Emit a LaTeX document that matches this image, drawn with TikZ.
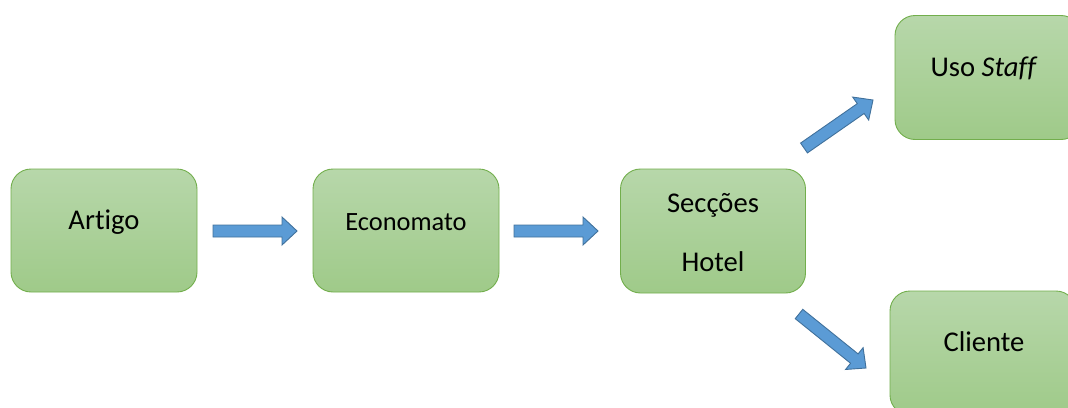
\documentclass[tikz,border=0pt]{standalone}
\usepackage{fontspec}
\setmainfont[Ligatures=NoCommon]{Carlito}
\usetikzlibrary{calc}
\definecolor{boxtop}{HTML}{B7D7AA}
\definecolor{boxbot}{HTML}{9FCA89}
\definecolor{boxline}{HTML}{72AE4C}
\definecolor{arrfill}{HTML}{5B9BD5}
\definecolor{arrline}{HTML}{41719C}
\tikzset{
  box/.style={draw=boxline, line width=0.9pt, rounded corners=20pt, top color=boxtop, bottom color=boxbot, inner sep=0pt},
  lbl/.style={font=\fontsize{28.6}{32}\selectfont, inner sep=0pt},
  blk/.style={fill=arrfill, draw=arrline, line width=0.9pt, line join=miter}
}
\newcommand\barrow[2]{%
  \coordinate (hb) at ($(#2)!15pt!(#1)$);
  \path[blk] ($(#1)!6pt!90:(#2)$) -- ($(hb)!6pt!-90:(#1)$) -- ($(hb)!14pt!-90:(#1)$) -- (#2) -- ($(hb)!14pt!90:(#1)$) -- ($(hb)!6pt!90:(#1)$) -- ($(#1)!6pt!-90:(#2)$) -- cycle;}
\begin{document}
\begin{tikzpicture}[x=1pt,y=-1pt]
\path[use as bounding box] (0,0) rectangle (1068,407);
\begin{scope}
\clip (0,0) rectangle (1068,407);
\node[box, minimum width=186pt, minimum height=123pt] (artigo) at (104,230.5) {};
\node[box, minimum width=186pt, minimum height=123pt] (econ) at (406,230.5) {};
\node[box, minimum width=185pt, minimum height=124pt] (sec) at (713,231) {};
\node[box, minimum width=186pt, minimum height=124pt] (staff) at (988,77.5) {};
\node[box, minimum width=186pt, minimum height=124pt] (cli) at (983,353) {};
\end{scope}
\node[lbl] at (104,222) {Artigo};
\node[lbl, font=\fontsize{26.4}{30}\selectfont] at (406,222) {Economato};
\node[lbl] at (713,205) {Secções};
\node[lbl] at (713,262) {Hotel};
\node[lbl] at (984,68) {Uso \textit{Staff}};
\node[lbl] at (984,342) {Cliente};
\coordinate (a1s) at (213,231); \coordinate (a1e) at (297,231);
\coordinate (a2s) at (514,231); \coordinate (a2e) at (598,231);
\coordinate (a3s) at (804,148); \coordinate (a3e) at (873,100);
\coordinate (a4s) at (799,314); \coordinate (a4e) at (866,368);
\barrow{a1s}{a1e}
\barrow{a2s}{a2e}
\barrow{a3s}{a3e}
\barrow{a4s}{a4e}
\end{tikzpicture}
\end{document}
